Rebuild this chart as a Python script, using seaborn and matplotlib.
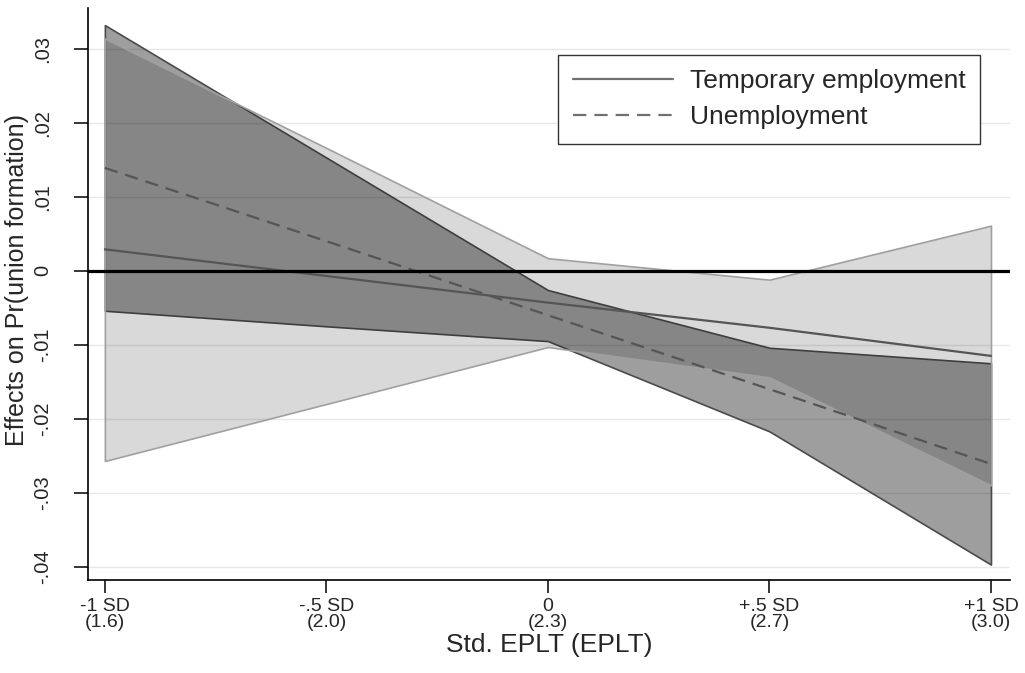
import numpy as np
import pandas as pd
import matplotlib
matplotlib.use("Agg")
import matplotlib.pyplot as plt
import seaborn as sns
from matplotlib.lines import Line2D

# Marginal effects of labour-market status on Pr(union formation)
# evaluated across the standardised EPLT index.
sd_positions = [-1.0, -0.5, 0.0, 0.5, 1.0]
tick_labels = ["-1 SD\n(1.6)", "-.5 SD\n(2.0)", "0\n(2.3)", "+.5 SD\n(2.7)", "+1 SD\n(3.0)"]

temp_est = [0.0029, -0.0007, -0.0043, -0.0077, -0.0115]
temp_lo = [-0.0257, -0.0180, -0.0103, -0.0144, -0.0290]
temp_hi = [0.0314, 0.0166, 0.0017, -0.0012, 0.0061]

unemp_est = [0.0139, 0.0040, -0.0060, -0.0160, -0.0261]
unemp_lo = [-0.0054, -0.0075, -0.0095, -0.0217, -0.0397]
unemp_hi = [0.0332, 0.0153, -0.0026, -0.0104, -0.0125]

y_ticks = [-0.04, -0.03, -0.02, -0.01, 0.0, 0.01, 0.02, 0.03]
y_tick_labels = ["-.04", "-.03", "-.02", "-.01", "0", ".01", ".02", ".03"]

series_names = ["Temporary employment", "Unemployment"]

df = pd.DataFrame({
    "pos": sd_positions * 2,
    "effect": temp_est + unemp_est,
    "lo": temp_lo + unemp_lo,
    "hi": temp_hi + unemp_hi,
    "series": [series_names[0]] * 5 + [series_names[1]] * 5,
})

sns.set_style("white")
plt.rcParams["font.family"] = ["Liberation Sans", "DejaVu Sans"]

fig = plt.figure(figsize=(10.25, 6.73), dpi=100)
ax = fig.add_axes([0.0859, 0.138, 0.8995, 0.850])

# horizontal grid at each tick
for yv in y_ticks:
    ax.axhline(yv, color="#e8e8e8", lw=1.0, zorder=0)

# confidence bands
t = df[df.series == series_names[0]]
u = df[df.series == series_names[1]]
ax.fill_between(u.pos, u.lo, u.hi, facecolor=(0, 0, 0, 0.38),
                edgecolor="#4a4a4a", lw=1.2, zorder=2)
ax.fill_between(t.pos, t.lo, t.hi, facecolor=(0, 0, 0, 0.15),
                edgecolor="#a0a0a0", lw=1.2, zorder=3)

# point estimates
sns.lineplot(data=df, x="pos", y="effect", style="series",
             dashes={series_names[0]: "", series_names[1]: (6, 3.6)},
             color="#555555", lw=1.6, legend=False, ax=ax, zorder=4)

ax.axhline(0, color="black", lw=2.3, zorder=5)

ax.set_xlim(-1.038, 1.043)
ax.set_ylim(-0.0418, 0.0355)

ax.set_xticks(sd_positions)
ax.set_xticklabels(tick_labels, fontsize=14, linespacing=0.92)
ax.set_yticks(y_ticks)
ax.set_yticklabels(y_tick_labels, fontsize=14.5, rotation=90, va="center")

ax.tick_params(axis="x", direction="out", length=9, width=1.1, color="black", pad=4)
ax.tick_params(axis="y", direction="out", length=10, width=1.1, color="black", pad=16)
ax.tick_params(bottom=True, left=True)

for side in ["top", "right"]:
    ax.spines[side].set_visible(False)
for side in ["left", "bottom"]:
    ax.spines[side].set_color("black")
    ax.spines[side].set_linewidth(1.2)

ax.set_xlabel("Std. EPLT (EPLT)", fontsize=19)
ax.xaxis.set_label_coords(0.5, -0.092)
ax.set_ylabel("Effects on Pr(union formation)", fontsize=18)
ax.yaxis.set_label_coords(-0.064, 0.525)

handles = [
    Line2D([], [], color="#707070", lw=1.6, label=series_names[0]),
    Line2D([], [], color="#707070", lw=1.6, dashes=(6, 3.6), label=series_names[1]),
]
leg = ax.legend(handles=handles, loc="upper center", bbox_to_anchor=(0.7386, 0.918),
                borderaxespad=0, fontsize=19, handlelength=3.8, handletextpad=0.64,
                labelspacing=0.45, borderpad=0.55, frameon=True, fancybox=False,
                framealpha=1)
leg.get_frame().set_edgecolor("#333333")
leg.get_frame().set_linewidth(1.0)

fig.savefig("out.png", dpi=100)
